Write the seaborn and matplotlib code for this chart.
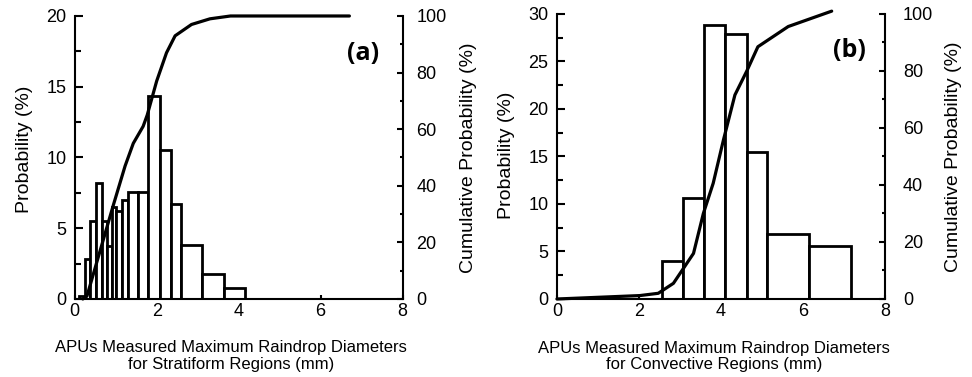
import numpy as np
import pandas as pd
import matplotlib
matplotlib.use("Agg")
import matplotlib.pyplot as plt
from matplotlib.ticker import MultipleLocator
import seaborn as sns

# ---------------- data ----------------
# (a) stratiform regions: histogram bin edges (mm) and probabilities (%)
strat_edges = [0.11, 0.25, 0.38, 0.52, 0.66, 0.78, 0.90, 1.02, 1.15, 1.29,
               1.55, 1.80, 2.08, 2.34, 2.59, 3.10, 3.63, 4.15]
strat_prob = [0.2, 2.8, 5.5, 8.2, 5.5, 3.75, 6.5, 6.25, 7.0, 7.55,
              7.55, 14.35, 10.5, 6.7, 3.8, 1.8, 0.8]
# (a) cumulative probability curve
strat_cum_x = [0.2, 0.3, 0.62, 0.94, 1.23, 1.43, 1.67, 1.77, 2.0, 2.24,
               2.45, 2.85, 3.3, 3.8, 6.7]
strat_cum_y = [0, 1, 17, 33, 47, 55, 61, 65, 77, 87, 93, 97, 99, 100, 100]

# (b) convective regions
conv_edges = [2.56, 3.07, 3.59, 4.11, 4.63, 5.13, 6.15, 7.18]
conv_prob = [4.0, 10.6, 28.8, 27.9, 15.5, 6.85, 5.6]
conv_cum_x = [0.0, 2.02, 2.47, 2.84, 3.33, 3.57, 3.81, 4.06, 4.34, 4.63,
              4.9, 5.64, 6.7]
conv_cum_y = [0, 1.2, 2, 5.5, 16, 30, 40.6, 55.8, 71.6, 80, 88.5, 95.6, 101]

xticks = [0, 2, 4, 6, 8]
ylabel_left = "Probability (%)"
ylabel_right = "Cumulative Probability (%)"
xlabel_a = "APUs Measured Maximum Raindrop Diameters\nfor Stratiform Regions (mm)"
xlabel_b = "APUs Measured Maximum Raindrop Diameters\nfor Convective Regions (mm)"

# ---------------- style ----------------
sns.set_theme(style="ticks")
plt.rcParams["font.family"] = ["Liberation Sans", "DejaVu Sans"]
plt.rcParams["axes.edgecolor"] = "black"
plt.rcParams["xtick.color"] = "black"
plt.rcParams["ytick.color"] = "black"
plt.rcParams["text.color"] = "black"
plt.rcParams["axes.labelcolor"] = "black"

fig = plt.figure(figsize=(9.72, 3.77), dpi=100)
fig.patch.set_facecolor("white")
axA = fig.add_axes([0.0768, 0.2069, 0.3375, 0.7507])
axB = fig.add_axes([0.5730, 0.2069, 0.3375, 0.7560])

LW = 1.5
TICK_FS = 13
YLAB_FS = 14
XLAB_FS = 12


def panel(ax, edges, probs, cx, cy, ymax, tag, xlabel, tagpos,
          lpos, rpos, xlabpos, rpad):
    e = np.asarray(edges, dtype=float)
    df = pd.DataFrame({"d": (e[:-1] + e[1:]) / 2, "p": probs})
    sns.histplot(data=df, x="d", weights="p", bins=list(edges), ax=ax,
                 color="white", edgecolor="black", linewidth=2.0,
                 alpha=1, stat="count")
    ax.set_xlim(0, 8)
    ax.set_ylim(0, ymax)
    ax.set_facecolor("white")
    ax.set_xticks(xticks)
    ax.yaxis.set_major_locator(MultipleLocator(5))
    ax.yaxis.set_minor_locator(MultipleLocator(2.5))
    ax.tick_params(axis="y", which="major", direction="in", length=6,
                   width=LW, labelsize=TICK_FS, pad=6)
    ax.tick_params(axis="y", which="minor", direction="in", length=4,
                   width=LW)
    ax.tick_params(axis="x", which="major", direction="in", length=3,
                   width=LW, labelsize=TICK_FS, pad=3)
    for s in ["top", "right"]:
        ax.spines[s].set_visible(False)
    for s in ["left", "bottom"]:
        ax.spines[s].set_linewidth(LW)

    ax2 = ax.twinx()
    cdf = pd.DataFrame({"x": cx, "y": cy})
    sns.lineplot(data=cdf, x="x", y="y", ax=ax2, color="black",
                 linewidth=2.3, clip_on=False)
    ax2.set_ylim(0, 100)
    ax2.yaxis.set_major_locator(MultipleLocator(20))
    ax2.yaxis.set_minor_locator(MultipleLocator(10))
    ax2.tick_params(axis="y", which="major", direction="in", length=4.5,
                    width=LW, labelsize=TICK_FS, pad=rpad)
    ax2.tick_params(axis="y", which="minor", direction="in", length=2.5,
                    width=LW)
    for s in ["top", "left", "bottom"]:
        ax2.spines[s].set_visible(False)
    ax2.spines["right"].set_linewidth(LW)

    ax.set_ylabel(ylabel_left, fontsize=YLAB_FS)
    ax.yaxis.set_label_coords(*lpos)
    ax2.set_ylabel(ylabel_right, fontsize=YLAB_FS)
    ax2.yaxis.set_label_coords(*rpos)
    ax.set_xlabel(xlabel, fontsize=XLAB_FS, linespacing=1.1)
    ax.xaxis.set_label_coords(*xlabpos)

    ax2.text(tagpos[0], tagpos[1], tag, transform=ax2.transAxes,
             ha="center", va="center", fontsize=18, fontweight="bold",
             family=["Open Sans", "DejaVu Sans"])


panel(axA, strat_edges, strat_prob, strat_cum_x, strat_cum_y, 20, "(a)",
      xlabel_a, (0.879, 0.866), (-0.127, 0.528), (1.175, 0.5),
      (0.476, -0.146), 10)
panel(axB, conv_edges, conv_prob, conv_cum_x, conv_cum_y, 30, "(b)",
      xlabel_b, (0.893, 0.872), (-0.128, 0.505), (1.183, 0.5),
      (0.479, -0.146), 13)

fig.savefig("out.png", dpi=100, facecolor="white")
